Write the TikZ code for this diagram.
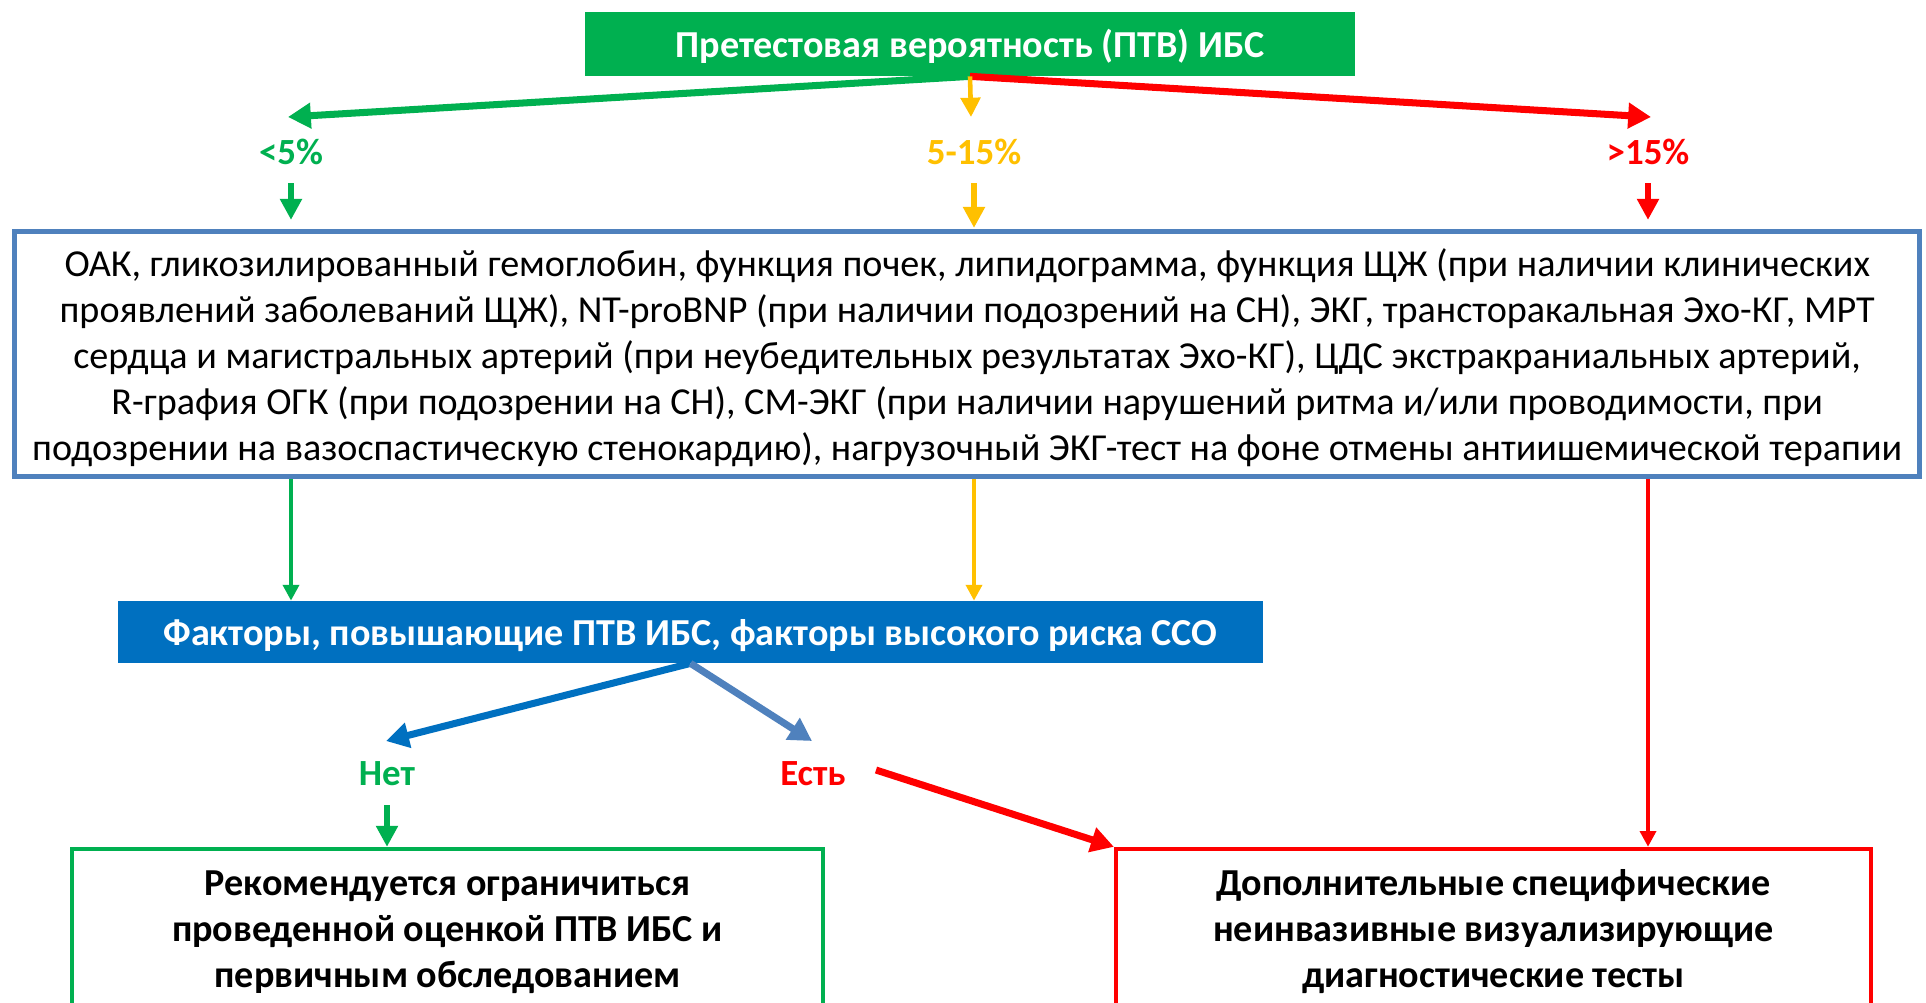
\documentclass[tikz,border=0pt]{standalone}
\usepackage{fontspec}
\setmainfont{Carlito}
\usetikzlibrary{arrows.meta}
\definecolor{cgreen}{RGB}{0,176,80}
\definecolor{cyellow}{RGB}{255,192,0}
\definecolor{cred}{RGB}{255,0,0}
\definecolor{cblue}{RGB}{0,112,192}
\definecolor{csteel}{RGB}{79,129,189}
\begin{document}
\begin{tikzpicture}[x=0.02cm,y=-0.02cm,
  boxshape/.style={inner sep=0pt},
  headtext/.style={inner sep=0pt, align=center, text=white, font=\bfseries\fontsize{21.7}{26.2}\selectfont},
  maintext/.style={inner sep=0pt, align=center, font=\fontsize{21.7}{26.2}\selectfont},
  endtext/.style={inner sep=0pt, align=center, font=\bfseries\fontsize{21.7}{26.2}\selectfont},
  lbl/.style={inner sep=0pt, font=\bfseries\fontsize{21}{25}\selectfont},
  bigarr/.style={line width=4pt, -{Triangle[length=13pt,width=14pt]}},
  medarr/.style={line width=2.6pt, -{Triangle[length=11pt,width=11pt]}},
  smallarr/.style={line width=3pt, -{Triangle[length=12pt,width=12pt]}},
  vline/.style={line width=2.3pt, -{Triangle[length=9pt,width=9pt]}},
]
\clip (0,0) rectangle (1926,1002);
\fill[white] (0,0) rectangle (1926,1002);

% boxes
\node[boxshape, fill=cgreen, minimum width=15.4cm, minimum height=1.28cm] (top) at (970,44) {};
\node[headtext] (toptext) at (970,46.5) {Претестовая вероятность (ПТВ) ИБС};

\node[boxshape, draw=csteel, line width=3pt, minimum width=38.1cm, minimum height=4.9cm] (main) at (967,354) {};
\node[maintext] (maintxt) at (967,358)
 {ОАК, гликозилированный гемоглобин, функция почек, липидограмма, функция ЩЖ (при наличии клинических\\
 проявлений заболеваний ЩЖ), NT-proBNP (при наличии подозрений на СН), ЭКГ, трансторакальная Эхо-КГ, МРТ\\
 сердца и магистральных артерий (при неубедительных результатах Эхо-КГ), ЦДС экстракраниальных артерий,\\
 R-графия ОГК (при подозрении на СН), СМ-ЭКГ (при наличии нарушений ритма и/или проводимости, при\\
 подозрении на вазоспастическую стенокардию), нагрузочный ЭКГ-тест на фоне отмены антиишемической терапии};

\node[boxshape, fill=cblue, minimum width=22.9cm, minimum height=1.24cm] (fact) at (690.5,632) {};
\node[headtext] (facttext) at (690.5,636) {Факторы, повышающие ПТВ ИБС, факторы высокого риска ССО};

\node[boxshape, draw=cgreen, line width=2.5pt, fill=white, minimum width=15.02cm, minimum height=3.22cm] (left) at (447.5,929.5) {};
\node[endtext] (lefttext) at (447.5,932)
 {Рекомендуется ограничиться\\ проведенной оценкой ПТВ ИБС и\\ первичным обследованием};
\node[boxshape, draw=cred, line width=2.5pt, fill=white, minimum width=15.1cm, minimum height=3.22cm] (right) at (1493.5,929.5) {};
\node[endtext] (righttext) at (1493.5,932)
 {Дополнительные специфические\\ неинвазивные визуализирующие\\ диагностические тесты};

% labels
\node[lbl, text=cgreen] (l1) at (291,152) {<5\%};
\node[lbl, text=cyellow] (l2) at (974,152) {5-15\%};
\node[lbl, text=cred] (l3) at (1648,152) {>15\%};
\node[lbl, text=cgreen] (net) at (387,774) {Нет};
\node[lbl, text=cred] (est) at (813,774) {Есть};

% arrow end coordinates
\coordinate (t1) at (288,117);
\coordinate (t2) at (971,117);
\coordinate (t3) at (1651,117);
\coordinate (tnet) at (386,741);
\coordinate (test) at (812,741);
\coordinate (sest) at (876,770);

% top arrows
\draw[bigarr, cgreen] (top.south) -- (t1);
\draw[bigarr, cred] (top.south) -- (t3);
\draw[medarr, cyellow] (top.south) -- (t2);

% label to main box
\draw[smallarr, cgreen, shorten <=0.36cm, shorten >=0.18cm] (l1.south) -- (l1.south |- main.north);
\draw[smallarr, cyellow, shorten <=0.36cm, shorten >=0.02cm] (l2.south) -- (l2.south |- main.north);
\draw[smallarr, cred, shorten <=0.36cm, shorten >=0.18cm] (l3.south) -- (l3.south |- main.north);

% main box downwards
\draw[vline, cgreen] (l1 |- main.south) -- (l1 |- fact.north);
\draw[vline, cyellow] (l2 |- main.south) -- (l2 |- fact.north);
\draw[vline, cred] (l3 |- main.south) -- (l3 |- right.north);

% factor arrows
\draw[bigarr, cblue] (fact.south) -- (tnet);
\draw[bigarr, csteel] (fact.south) -- (test);
\draw[smallarr, cgreen, shorten <=0.38cm] (net.south) -- (net.south |- left.north);
\draw[bigarr, cred] (sest) -- (right.north west);
\end{tikzpicture}
\end{document}
